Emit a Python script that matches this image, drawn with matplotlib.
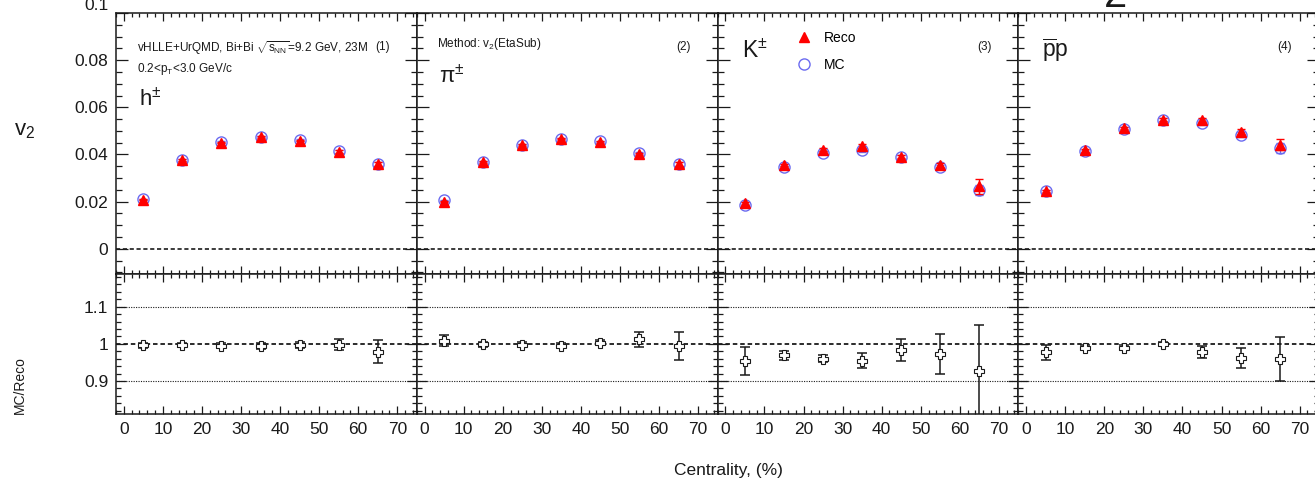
#!/usr/bin/env python3
"""
v2 vs centrality: Reco vs MC for h, pi, K, p (vHLLE+UrQMD Bi+Bi 9.2 GeV)
"""

import matplotlib
matplotlib.use('Agg')
import matplotlib.pyplot as plt
from matplotlib.ticker import MultipleLocator, FuncFormatter
from matplotlib.lines import Line2D

plt.rcParams['font.family'] = ['Liberation Sans', 'DejaVu Sans']
plt.rcParams['mathtext.fontset'] = 'custom'
plt.rcParams['mathtext.rm'] = 'Liberation Sans'
plt.rcParams['mathtext.it'] = 'Liberation Sans'
plt.rcParams['mathtext.bf'] = 'Liberation Sans:bold'

# ---- data ----
centrality = [5, 15, 25, 35, 45, 55, 65]
particle_labels = ['h$^{\\pm}$', 'π$^{\\pm}$', 'K$^{\\pm}$', '$\\overline{\\rm p}$p']
panel_tags = ['(1)', '(2)', '(3)', '(4)']

reco_h = [0.0208, 0.0376, 0.0450, 0.0474, 0.0459, 0.0412, 0.0361]
reco_h_err = [0.0003, 0.0003, 0.0003, 0.0003, 0.0004, 0.0005, 0.0008]
mc_h = [0.0209, 0.0377, 0.0452, 0.0475, 0.0460, 0.0413, 0.0361]
mc_h_err = [0.0003, 0.0003, 0.0003, 0.0003, 0.0004, 0.0005, 0.0008]
ratio_h = [0.996, 0.997, 0.995, 0.994, 0.996, 0.997, 0.979]
ratio_h_err = [0.006, 0.005, 0.006, 0.007, 0.008, 0.015, 0.031]

reco_pi = [0.0200, 0.0368, 0.0440, 0.0467, 0.0453, 0.0401, 0.0359]
reco_pi_err = [0.0003, 0.0003, 0.0003, 0.0003, 0.0004, 0.0005, 0.0009]
mc_pi = [0.0205, 0.0370, 0.0442, 0.0466, 0.0455, 0.0405, 0.0361]
mc_pi_err = [0.0003, 0.0003, 0.0003, 0.0003, 0.0004, 0.0005, 0.0009]
ratio_pi = [1.008, 0.999, 0.998, 0.995, 1.003, 1.012, 0.995]
ratio_pi_err = [0.015, 0.007, 0.006, 0.006, 0.007, 0.020, 0.038]

reco_k = [0.0193, 0.0355, 0.0421, 0.0436, 0.0391, 0.0354, 0.0265]
reco_k_err = [0.0006, 0.0006, 0.0006, 0.0007, 0.0007, 0.0009, 0.0033]
mc_k = [0.0186, 0.0347, 0.0407, 0.0418, 0.0389, 0.0347, 0.0248]
mc_k_err = [0.0005, 0.0005, 0.0006, 0.0007, 0.0007, 0.0008, 0.0021]
ratio_k = [0.953, 0.969, 0.960, 0.955, 0.983, 0.973, 0.928]
ratio_k_err = [0.038, 0.012, 0.010, 0.020, 0.030, 0.054, 0.123]

reco_p = [0.0245, 0.0417, 0.0512, 0.0548, 0.0545, 0.0497, 0.0442]
reco_p_err = [0.0005, 0.0005, 0.0006, 0.0007, 0.0008, 0.0011, 0.0023]
mc_p = [0.0243, 0.0416, 0.0510, 0.0547, 0.0534, 0.0484, 0.0428]
mc_p_err = [0.0005, 0.0005, 0.0006, 0.0007, 0.0008, 0.0010, 0.0020]
ratio_p = [0.977, 0.989, 0.989, 1.000, 0.978, 0.962, 0.959]
ratio_p_err = [0.020, 0.007, 0.007, 0.005, 0.016, 0.028, 0.060]

reco_all = [reco_h, reco_pi, reco_k, reco_p]
reco_err_all = [reco_h_err, reco_pi_err, reco_k_err, reco_p_err]
mc_all = [mc_h, mc_pi, mc_k, mc_p]
mc_err_all = [mc_h_err, mc_pi_err, mc_k_err, mc_p_err]
ratio_all = [ratio_h, ratio_pi, ratio_k, ratio_p]
ratio_err_all = [ratio_h_err, ratio_pi_err, ratio_k_err, ratio_p_err]

# ---- layout (pixels) ----
W, H = 1315, 480
PANEL_W = 300.8
X0 = 116
TOP_Y0, TOP_Y1 = 13, 274
BOT_Y1 = 414

RED = '#ff0000'
BLUE = '#6b6bf0'
INK = '#1a1a1a'


def px(x, y):
    """Pixel position (from top-left) to figure fraction."""
    return x / W, 1 - y / H


def fmt(v, _):
    return f'{round(v, 3) + 0.0:g}'


def fmt_top(v, _):
    # the 0.1 label sits partly above the canvas, drawn separately
    if v > 0.099:
        return ''
    return fmt(v, _)


def style_axis(ax, ymaj, ymin, ylen, show_y, show_x, formatter=fmt):
    ax.set_xlim(-2, 75)
    ax.xaxis.set_major_locator(MultipleLocator(10))
    ax.xaxis.set_minor_locator(MultipleLocator(2))
    ax.yaxis.set_major_locator(MultipleLocator(ymaj))
    ax.yaxis.set_minor_locator(MultipleLocator(ymin))
    ax.yaxis.set_major_formatter(FuncFormatter(formatter))
    ax.tick_params(which='both', direction='in', top=True, right=True,
                   color=INK, width=0.9, labelsize=12.5, labelcolor=INK)
    ax.tick_params(axis='x', which='major', length=5.8, pad=6)
    ax.tick_params(axis='x', which='minor', length=2.9)
    ax.tick_params(axis='y', which='major', length=ylen, pad=5.5)
    ax.tick_params(axis='y', which='minor', length=ylen / 2)
    ax.tick_params(labelleft=show_y, labelbottom=show_x)
    for s in ax.spines.values():
        s.set_linewidth(1.1)
        s.set_color(INK)


fig = plt.figure(figsize=(W / 100, H / 100), dpi=100)

for i in range(4):
    left = (X0 + PANEL_W * i) / W
    ax = fig.add_axes([left, 1 - TOP_Y1 / H, PANEL_W / W, (TOP_Y1 - TOP_Y0) / H])
    axr = fig.add_axes([left, 1 - BOT_Y1 / H, PANEL_W / W, (BOT_Y1 - TOP_Y1) / H])

    # v2 panel
    ax.axhline(0, color=INK, lw=1.2, ls=(0, (2.5, 1.6)), zorder=1)
    ax.errorbar(centrality, mc_all[i], yerr=mc_err_all[i], fmt='o', ms=8,
                mfc='none', mec=BLUE, mew=1.0, ecolor=BLUE, elinewidth=1.0,
                capsize=3, zorder=3)
    ax.errorbar(centrality, reco_all[i], yerr=reco_err_all[i], fmt='^', ms=7.5,
                mfc=RED, mec=RED, ecolor=RED, elinewidth=1.0, capsize=3,
                zorder=4)
    ax.set_ylim(-0.0107, 0.1)
    style_axis(ax, 0.02, 0.005, 8.6, i == 0, False, fmt_top)

    ax.text(0.886, 0.868, panel_tags[i], transform=ax.transAxes,
            ha='center', va='center', fontsize=8.5, color=INK)

    # ratio panel
    axr.axhline(1.0, color=INK, lw=1.3, ls=(0, (2.5, 1.6)), zorder=1)
    axr.axhline(1.1, color=INK, lw=0.8, ls=(0, (1, 1.2)), zorder=1)
    axr.axhline(0.9, color=INK, lw=0.8, ls=(0, (1, 1.2)), zorder=1)
    axr.errorbar(centrality, ratio_all[i], yerr=ratio_err_all[i], fmt='none',
                 ecolor=INK, elinewidth=1.1, capsize=3.5, capthick=1.1, zorder=2)
    axr.plot(centrality, ratio_all[i], ls='none', marker='P', ms=7.5,
             mfc='white', mec=INK, mew=0.8, zorder=3)
    axr.set_ylim(0.811, 1.188)
    style_axis(axr, 0.1, 0.02, 7.2, i == 0, True)

    if i == 2:
        handles = [
            Line2D([], [], ls='none', marker='^', ms=7.5, mfc=RED, mec=RED),
            Line2D([], [], ls='none', marker='o', ms=8, mfc='none', mec=BLUE, mew=1.0),
        ]
        ax.legend(handles, ['Reco', 'MC'], loc='upper left',
                  bbox_to_anchor=(0.265, 0.932), frameon=False, fontsize=10,
                  handlelength=1.0, handletextpad=0.9, labelspacing=0.92,
                  borderpad=0, borderaxespad=0)

# top y label, partly cut by the canvas edge as in the source
fig.text(*px(108.5, 6), '0.1', fontsize=12.5, color=INK, ha='right', va='center')

# particle names
fig.text(*px(139, 106), particle_labels[0], fontsize=16, color=INK, va='baseline')
fig.text(*px(439, 83), particle_labels[1], fontsize=16, color=INK, va='baseline')
fig.text(*px(742, 58), particle_labels[2], fontsize=16.5, color=INK, va='baseline')
fig.text(*px(1042, 57), particle_labels[3], fontsize=16.5, color=INK, va='baseline')

# annotations
fig.text(*px(137, 52), 'vHLLE+UrQMD, Bi+Bi $\\sqrt{s_{NN}}$=9.2 GeV, 23M',
         fontsize=8.5, color=INK, va='baseline')
fig.text(*px(137, 72), '0.2<p$_{T}$<3.0 GeV/c', fontsize=8.5, color=INK,
         va='baseline')
fig.text(*px(437, 47), 'Method: v$_{2}$(EtaSub)', fontsize=8.5, color=INK,
         va='baseline')

# axis titles
fig.text(*px(14, 135), 'v$_{2}$', fontsize=16, color=INK, va='baseline')
fig.text(*px(20, 385), 'MC/Reco', fontsize=10, color=INK, rotation=90,
         ha='center', va='center')
fig.text(*px(728, 470), 'Centrality, (%)', fontsize=12.5, color=INK,
         ha='center', va='center')

# clipped piece of a larger title above the canvas
fig.text(*px(1116, 7), '2', fontsize=30, color=INK, ha='center', va='baseline')

fig.savefig('out.png', dpi=100)
